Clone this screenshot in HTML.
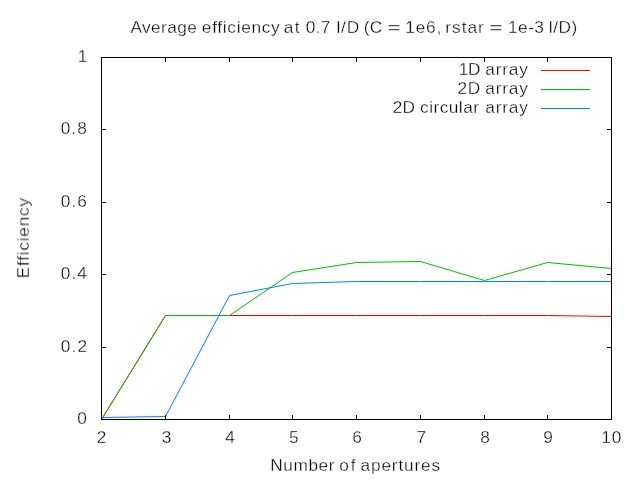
<!DOCTYPE html>
<html>
<head>
<meta charset="utf-8">
<title>Average efficiency</title>
<style>
  html, body { margin: 0; padding: 0; background: #ffffff; }
  body { width: 640px; height: 480px; overflow: hidden; position: relative; }
  svg { will-change: transform; position: absolute; left: 0; top: 0; display: block; }
  text {
    font-family: "Liberation Sans", sans-serif;
    font-size: 16px;
    fill: #000000;
    stroke: #ffffff;
    stroke-width: 0.3px;
    stroke-linejoin: round;
  }
  .frame line, .frame rect { stroke: #000000; stroke-width: 1; fill: none; shape-rendering: crispEdges; }
  .data polyline { fill: none; stroke-width: 1; stroke-linejoin: round; stroke-linecap: butt; }
</style>
</head>
<body>
<svg width="640" height="480" viewBox="0 0 640 480">
  <defs>
    <!-- emulates 4:2:0 chroma subsampling of the source picture: luma kept sharp, chroma softened -->
    <filter id="chroma" filterUnits="userSpaceOnUse" x="-20" y="-20" width="680" height="520" color-interpolation-filters="sRGB">
      <feColorMatrix in="SourceGraphic" type="matrix" result="Y"
        values="0.299 0.587 0.114 0 0
                0.299 0.587 0.114 0 0
                0.299 0.587 0.114 0 0
                0 0 0 0 1"/>
      <feColorMatrix in="SourceGraphic" type="matrix" result="C"
        values=" 0.3505 -0.2935 -0.0570 0 0.50196
                -0.1495  0.2065 -0.0570 0 0.50196
                -0.1495 -0.2935  0.4430 0 0.50196
                 0 0 0 0 1"/>
      <feGaussianBlur in="C" stdDeviation="0.95" result="CB"/>
      <feComposite in="Y" in2="CB" operator="arithmetic" k1="0" k2="1" k3="2.2" k4="-1.10431"/>
    </filter>
  </defs>

  <g filter="url(#chroma)">
  <rect x="-20" y="-20" width="680" height="520" fill="#ffffff"/>

  <!-- data curves -->
  <g class="data">
    <!-- 1D array (red) -->
    <polyline stroke="#ff0000" points="101.5,419.5 165.5,315.5 229.5,315.5 292.5,315.5 356.5,315.5 420.5,315.5 484.5,315.5 547.5,315.5 611.5,316.5"/>
    <!-- 2D array (green) -->
    <polyline stroke="#00c000" points="101.5,419.5 165.5,315.5 229.5,315.5 292.5,272.5 356.5,262.5 420.5,261.5 484.5,280.5 547.5,262.5 611.5,268.5"/>
    <!-- 2D circular array (blue) -->
    <polyline stroke="#0080ff" points="101.5,417.5 165.5,416.5 229.5,295.5 292.5,283.5 356.5,281.5 420.5,281.5 484.5,281.5 547.5,281.5 611.5,281.5"/>
  </g>

  <!-- legend samples -->
  <g class="frame">
    <line x1="541" y1="70.5" x2="590" y2="70.5" style="stroke:#ff0000"/>
    <line x1="541" y1="89.5" x2="590" y2="89.5" style="stroke:#00c000"/>
    <line x1="541" y1="108.5" x2="590" y2="108.5" style="stroke:#0080ff"/>
  </g>

  <!-- frame and tics -->
  <g class="frame">
    <rect x="101.5" y="57.5" width="510" height="362"/>
    <!-- x tics bottom -->
    <line x1="165.5" y1="415" x2="165.5" y2="419"/>
    <line x1="229.5" y1="415" x2="229.5" y2="419"/>
    <line x1="292.5" y1="415" x2="292.5" y2="419"/>
    <line x1="356.5" y1="415" x2="356.5" y2="419"/>
    <line x1="420.5" y1="415" x2="420.5" y2="419"/>
    <line x1="484.5" y1="415" x2="484.5" y2="419"/>
    <line x1="547.5" y1="415" x2="547.5" y2="419"/>
    <!-- x tics top -->
    <line x1="165.5" y1="58" x2="165.5" y2="62"/>
    <line x1="229.5" y1="58" x2="229.5" y2="62"/>
    <line x1="292.5" y1="58" x2="292.5" y2="62"/>
    <line x1="356.5" y1="58" x2="356.5" y2="62"/>
    <line x1="420.5" y1="58" x2="420.5" y2="62"/>
    <line x1="484.5" y1="58" x2="484.5" y2="62"/>
    <line x1="547.5" y1="58" x2="547.5" y2="62"/>
    <!-- y tics left -->
    <line x1="102" y1="129.5" x2="106" y2="129.5"/>
    <line x1="102" y1="202.5" x2="106" y2="202.5"/>
    <line x1="102" y1="274.5" x2="106" y2="274.5"/>
    <line x1="102" y1="347.5" x2="106" y2="347.5"/>
    <!-- y tics right -->
    <line x1="607" y1="129.5" x2="611" y2="129.5"/>
    <line x1="607" y1="202.5" x2="611" y2="202.5"/>
    <line x1="607" y1="274.5" x2="611" y2="274.5"/>
    <line x1="607" y1="347.5" x2="611" y2="347.5"/>
  </g>

  </g>

  <g style="opacity:0.999">
  <!-- title -->
  <text transform="scale(1.08,1)" y="33" xml:space="preserve"><tspan x="120.72" letter-spacing="0.39">Average </tspan><tspan x="186.91" letter-spacing="0.64">efficiency </tspan><tspan x="262.67" letter-spacing="1.29">at </tspan><tspan x="283.00" letter-spacing="0.29">0.7 </tspan><tspan x="311.47" letter-spacing="0.84">l/D </tspan><tspan x="336.87" letter-spacing="0.11">(C </tspan></text>
  <text transform="scale(1.42,1)" x="272.86" y="33">=</text>
  <text transform="scale(1.08,1)" y="33" xml:space="preserve"><tspan x="375.18" letter-spacing="0.79">1e6, </tspan><tspan x="412.25" letter-spacing="0.95">rstar </tspan></text>
  <text transform="scale(1.42,1)" x="344.55" y="33">=</text>
  <text transform="scale(1.08,1)" y="33" xml:space="preserve"><tspan x="470.37" letter-spacing="0.44">1e-3 </tspan><tspan x="508.14" letter-spacing="0.52">l/D)</tspan></text>
  <!-- y tic labels -->
  <text transform="scale(1.08,1)" y="62.5" xml:space="preserve"><tspan x="71.91" letter-spacing="0.46">1</tspan></text>
  <text transform="scale(1.08,1)" y="134.5" xml:space="preserve"><tspan x="56.25" letter-spacing="0.95">0.8</tspan></text>
  <text transform="scale(1.08,1)" y="207.5" xml:space="preserve"><tspan x="56.25" letter-spacing="1.00">0.6</tspan></text>
  <text transform="scale(1.08,1)" y="279.5" xml:space="preserve"><tspan x="56.26" letter-spacing="0.96">0.4</tspan></text>
  <text transform="scale(1.08,1)" y="352.5" xml:space="preserve"><tspan x="56.25" letter-spacing="1.09">0.2</tspan></text>
  <text transform="scale(1.08,1)" y="424.5" xml:space="preserve"><tspan x="71.62" letter-spacing="0.46">0</tspan></text>
  <!-- x tic labels -->
  <text transform="scale(1.08,1)" y="443" xml:space="preserve"><tspan x="89.67" letter-spacing="0.46">2</tspan></text>
  <text transform="scale(1.08,1)" y="443" xml:space="preserve"><tspan x="149.72" letter-spacing="0.46">3</tspan></text>
  <text transform="scale(1.08,1)" y="443" xml:space="preserve"><tspan x="208.67" letter-spacing="0.46">4</tspan></text>
  <text transform="scale(1.08,1)" y="443" xml:space="preserve"><tspan x="267.69" letter-spacing="0.46">5</tspan></text>
  <text transform="scale(1.08,1)" y="443" xml:space="preserve"><tspan x="326.27" letter-spacing="0.46">6</tspan></text>
  <text transform="scale(1.08,1)" y="443" xml:space="preserve"><tspan x="385.66" letter-spacing="0.46">7</tspan></text>
  <text transform="scale(1.08,1)" y="443" xml:space="preserve"><tspan x="444.80" letter-spacing="0.46">8</tspan></text>
  <text transform="scale(1.08,1)" y="443" xml:space="preserve"><tspan x="503.11" letter-spacing="0.46">9</tspan></text>
  <text transform="scale(1.08,1)" y="443" xml:space="preserve"><tspan x="556.69" letter-spacing="0.97">10</tspan></text>
  <!-- axis labels -->
  <text transform="scale(1.08,1)" y="471" xml:space="preserve"><tspan x="250.21" letter-spacing="0.53">Number </tspan><tspan x="314.21" letter-spacing="1.63">of </tspan><tspan x="333.89" letter-spacing="0.76">apertures</tspan></text>
  <text transform="translate(29,277.2) rotate(-90) scale(1.08,1)" y="0" xml:space="preserve"><tspan x="-0.99" letter-spacing="0.68">Efficiency</tspan></text>
  <!-- legend labels -->
  <text transform="scale(1.08,1)" y="75" xml:space="preserve"><tspan x="424.79" letter-spacing="-0.23">1D </tspan><tspan x="449.31" letter-spacing="0.76">array</tspan></text>
  <text transform="scale(1.08,1)" y="94" xml:space="preserve"><tspan x="423.68" letter-spacing="0.63">2D </tspan><tspan x="449.35" letter-spacing="0.74">array</tspan></text>
  <text transform="scale(1.08,1)" y="113" xml:space="preserve"><tspan x="363.76" letter-spacing="0.03">2D </tspan><tspan x="389.01" letter-spacing="0.42">circular </tspan><tspan x="449.33" letter-spacing="0.75">array</tspan></text>
  </g>
</svg>
</body>
</html>
